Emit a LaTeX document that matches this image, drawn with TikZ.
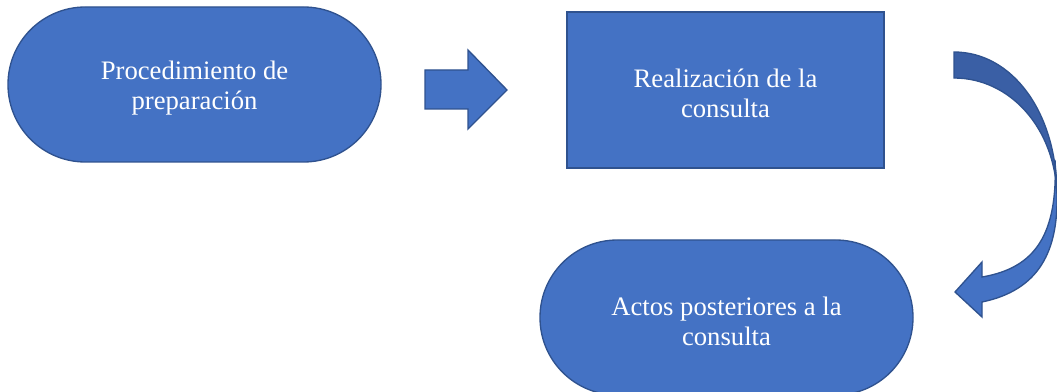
\documentclass[tikz,border=0pt]{standalone}
\usepackage{fontspec}
\setmainfont{Liberation Serif}
\usetikzlibrary{positioning}
\definecolor{officeblue}{HTML}{4472C4}
\definecolor{officeline}{HTML}{2F528F}
\definecolor{officedark}{HTML}{3A5FA5}

\begin{document}
\begin{tikzpicture}[x=0.75pt,y=-0.75pt,
	box/.style={draw=officeline, fill=officeblue, line width=1pt, text=white, align=center, text height=42pt, font=\fontsize{20}{22.5}\selectfont},
	stadium/.style={box, rounded corners=58pt, minimum width=279.75pt, minimum height=116.25pt},
	squarebox/.style={box, minimum width=237.75pt, minimum height=117pt},
	arrowshape/.style={draw=officeline, fill=officeblue, line width=1pt, line join=miter}]
	\useasboundingbox (0,0) rectangle (1057,392);
	\clip (0,0) rectangle (1057,392);

	% steps
	\node[stadium] (prep) at (194.5,84.5) {Procedimiento de\\preparación};
	\node[squarebox] (real) at (725.5,90) {Realización de la\\consulta};
	\node[stadium] (post) at (726.5,317.5) {Actos posteriores a la\\consulta};

	% straight block arrow
	\draw[arrowshape] (425,70) -- (468,70) -- (468,50) -- (507,90) -- (468,129) -- (468,109) -- (425,109) -- cycle;

	% curved arrow, back part first
	\draw[arrowshape, fill=officedark] (954,52) .. controls (1012,52) and (1057,112) .. (1057,195)
		.. controls (1055,128) and (1010,78) .. (954,78) -- cycle;
	\draw[arrowshape] (1055,160) .. controls (1058,235) and (1035,268) .. (982,277)
		-- (982,262) -- (955,292) -- (982,317) -- (982,302)
		.. controls (1040,290) and (1058,250) .. (1057,195) -- cycle;
\end{tikzpicture}
\end{document}
